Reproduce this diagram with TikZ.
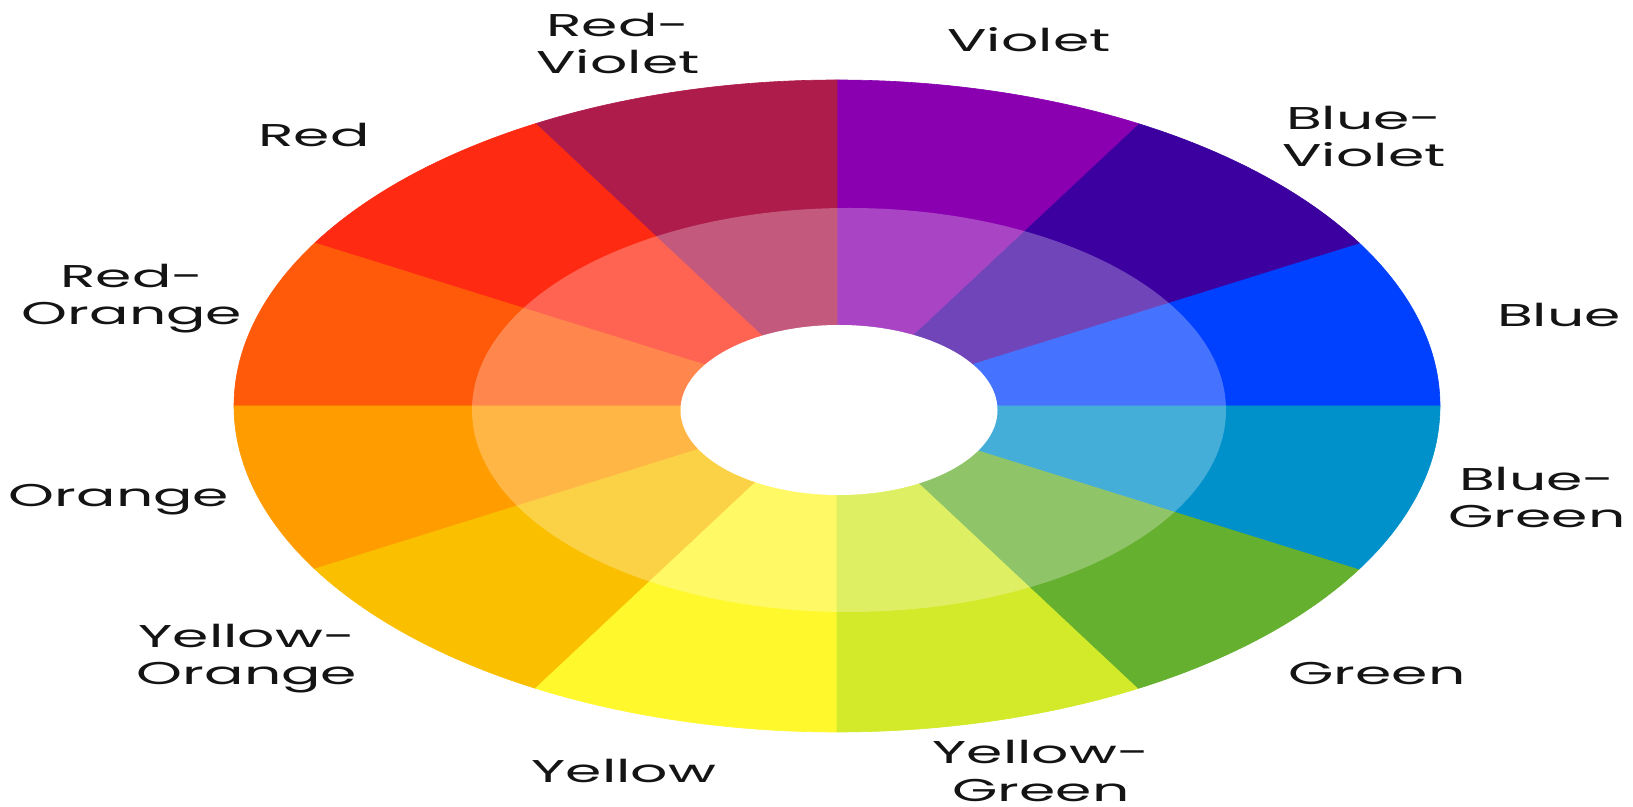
\documentclass[tikz,border=0pt]{standalone}
\usepackage{fontspec}
\setmainfont{Poppins}
\definecolor{cBlue}{HTML}{0040FF}
\definecolor{cBlueViolet}{HTML}{3C00A0}
\definecolor{cViolet}{HTML}{8A00B0}
\definecolor{cRedViolet}{HTML}{AE1C4C}
\definecolor{cRed}{HTML}{FF2A12}
\definecolor{cRedOrange}{HTML}{FF5A0A}
\definecolor{cOrange}{HTML}{FF9C00}
\definecolor{cYellowOrange}{HTML}{FAC000}
\definecolor{cYellow}{HTML}{FFF82C}
\definecolor{cYellowGreen}{HTML}{D2EA2A}
\definecolor{cGreen}{HTML}{66B030}
\definecolor{cBlueGreen}{HTML}{0090CA}
\begin{document}
\begin{tikzpicture}[x=1pt,y=1pt,
  lbl/.style={font=\fontsize{31.5}{37.5}\selectfont, text=black!92, align=center, inner sep=0pt, xscale=1.855, anchor=base},
  sector/.style={fill=#1, draw=#1, line width=0.6pt}]
\useasboundingbox (0,0) rectangle (1633,806);
\fill[white] (0,0) rectangle (1633,806);
\coordinate (C) at (837,400);
\foreach \a/\c in {0/cBlue, 30/cBlueViolet, 60/cViolet, 90/cRedViolet, 120/cRed, 150/cRedOrange, 180/cOrange, 210/cYellowOrange, 240/cYellow, 270/cYellowGreen, 300/cGreen, 330/cBlueGreen}
  \filldraw[sector=\c] (C) -- ++(\a:603 and 326) arc[start angle=\a, end angle=\a+30, x radius=603, y radius=326] -- cycle;
\fill[white, fill opacity=0.27] (849,396) ellipse [x radius=377, y radius=202];
\fill[white] (839,396) ellipse [x radius=158.5, y radius=85];
\node[lbl] (redviolet) at (618,732) {Red-\\Violet};
\node[lbl] (red) at (314,659) {Red};
\node[lbl] (redorange) at (132,481) {Red-\\Orange};
\node[lbl] (violet) at (1029,754) {Violet};
\node[lbl] (blueviolet) at (1364,639) {Blue-\\Violet};
\node[lbl] (blue) at (1559,479) {Blue};
\node[lbl] (orange) at (119,299) {Orange};
\node[lbl] (yelloworange) at (247,121) {Yellow-\\Orange};
\node[lbl] (yellow) at (624,24) {Yellow};
\node[lbl] (bluegreen) at (1537,278) {Blue-\\Green};
\node[lbl] (green) at (1377,121) {Green};
\node[lbl] (yellowgreen) at (1041,5) {Yellow-\\Green};
\end{tikzpicture}
\end{document}
